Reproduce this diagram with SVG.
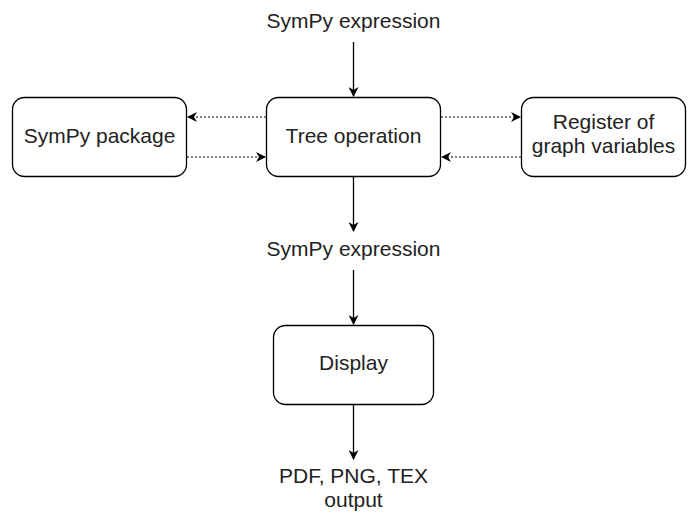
<svg xmlns="http://www.w3.org/2000/svg" width="688" height="512" viewBox="0 0 688 512">
<defs>
<style>
.box{fill:#fff;stroke:#000;stroke-width:1.3}
.t{font-family:"Liberation Sans",Arial,sans-serif;font-size:21px;fill:#222;text-anchor:middle}
.solid{stroke:#000;stroke-width:1.3;fill:none}
.dot{stroke:#000;stroke-width:1;fill:none;stroke-dasharray:2 2}
</style>
<marker id="ah" viewBox="0 0 10 10" refX="9" refY="5" markerWidth="10" markerHeight="10" markerUnits="userSpaceOnUse" orient="auto">
<path d="M0,0 L10,5 L0,10 L3,5 Z" fill="#000"/>
</marker>
</defs>
<rect width="688" height="512" fill="#fff"/>
<g id="connectors">
<path class="solid" d="M353.5,42 V96" marker-end="url(#ah)"/>
<path class="solid" d="M353.5,177 V231" marker-end="url(#ah)"/>
<path class="solid" d="M353.5,270 V324" marker-end="url(#ah)"/>
<path class="solid" d="M353.5,405 V459" marker-end="url(#ah)"/>
<path class="dot" d="M266,117 H188" marker-end="url(#ah)"/>
<path class="dot" d="M187,157 H265" marker-end="url(#ah)"/>
<path class="dot" d="M441,117 H520" marker-end="url(#ah)"/>
<path class="dot" d="M521,157 H442" marker-end="url(#ah)"/>
</g>
<g id="expr-top"><text class="t" x="353.5" y="28">SymPy expression</text></g>
<g id="sympy-package"><rect class="box" x="12.5" y="97.5" width="174" height="79" rx="12"/><text class="t" x="99.5" y="143">SymPy package</text></g>
<g id="tree-operation"><rect class="box" x="266.5" y="97.5" width="174" height="79" rx="12"/><text class="t" x="353.5" y="143">Tree operation</text></g>
<g id="register"><rect class="box" x="521.5" y="97.5" width="164" height="79" rx="12"/><text class="t" x="603.5" y="129">Register of</text><text class="t" x="603.5" y="153">graph variables</text></g>
<g id="expr-mid"><text class="t" x="353.5" y="256">SymPy expression</text></g>
<g id="display"><rect class="box" x="273.5" y="325.5" width="160" height="79" rx="12"/><text class="t" x="353.5" y="370">Display</text></g>
<g id="output"><text class="t" x="353.5" y="483">PDF, PNG, TEX</text><text class="t" x="353.5" y="507">output</text></g>
</svg>
